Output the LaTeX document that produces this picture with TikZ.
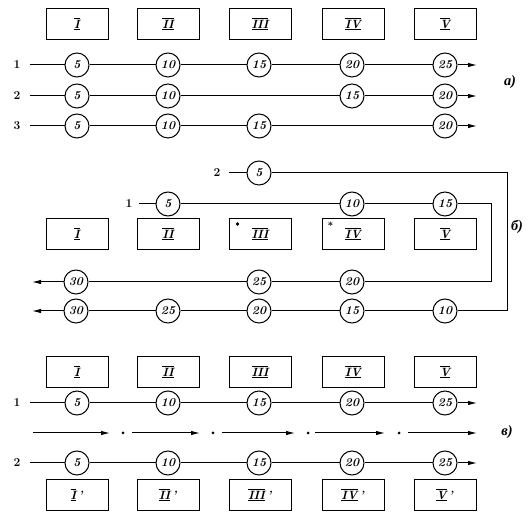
\documentclass[tikz,border=0pt]{standalone}
\usepackage{fontspec}
\newfontfamily\cyr{Liberation Serif}
\usetikzlibrary{arrows.meta}
\newcommand\rn[1]{$\overline{\underline{\mbox{\bfseries\itshape #1}}}$}
\begin{document}
\begin{tikzpicture}[x=1pt,y=-1pt,
 unit/.style={draw,line width=1pt,minimum width=62pt,minimum height=31pt,inner sep=0pt,font=\large},
 st/.style={draw,circle,line width=1pt,minimum size=24pt,inner sep=0pt,font=\large\bfseries\itshape},
 flow/.style={line width=1pt},
 tip/.style={-{Latex[length=9pt,width=4.5pt]}},
 rowlab/.style={font=\large\bfseries},
 part/.style={font=\cyr\itshape\bfseries\Large}]
\useasboundingbox (0,0) rectangle (531,521);

% ---------- a) ----------
\foreach \n/\x/\t in {1/77/I,2/168/II,3/260/III,4/353/IV,5/445/V}
  \node[unit] (A\n) at (\x,24) {\rn{\t}};
\node[part] (pa) at (510,82) {а)};
% row 1
\node[rowlab] (la1) at (17,65) {1};
\coordinate (a1s) at (30,65); \coordinate (a1e) at (477,65);
\foreach \n/\x/\v in {1/77/5,2/168/10,3/259/15,4/352/20,5/445/25}
  \node[st] (a1c\n) at (\x,65) {\v};
\draw[flow] (a1s) -- (a1c1) -- (a1c2) -- (a1c3) -- (a1c4) -- (a1c5);
\draw[flow,tip] (a1c5) -- (a1e);
% row 2
\node[rowlab] (la2) at (17,96) {2};
\coordinate (a2s) at (30,96); \coordinate (a2e) at (477,96);
\foreach \n/\x/\v in {1/77/5,2/168/10,3/352/15,4/445/20}
  \node[st] (a2c\n) at (\x,96) {\v};
\draw[flow] (a2s) -- (a2c1) -- (a2c2) -- (a2c3) -- (a2c4);
\draw[flow,tip] (a2c4) -- (a2e);
% row 3
\node[rowlab] (la3) at (17,126) {3};
\coordinate (a3s) at (30,126); \coordinate (a3e) at (477,126);
\foreach \n/\x/\v in {1/77/5,2/168/10,3/259/15,4/445/20}
  \node[st] (a3c\n) at (\x,126) {\v};
\draw[flow] (a3s) -- (a3c1) -- (a3c2) -- (a3c3) -- (a3c4);
\draw[flow,tip] (a3c4) -- (a3e);

% ---------- b) ----------
\foreach \n/\x/\t in {1/77/I,2/168/II,3/260/III,4/353/IV,5/445/V}
  \node[unit] (B\n) at (\x,234) {\rn{\t}};
\fill (B3.north west) ++(9,6) circle (1.8pt);
\node[font=\bfseries,inner sep=0pt] (star4) at ([shift={(9,8)}]B4.north west) {*};
\node[part] (pb) at (517,227) {б)};
% outer path (2)
\node[rowlab] (lb2) at (217,173) {2};
\coordinate (b2s) at (229,173);
\node[st] (b2c1) at (259,173) {5};
\coordinate (b2r1) at (507,173); \coordinate (b2r2) at (507,311);
\foreach \n/\x/\v in {2/445/10,3/352/15,4/259/20,5/168/25,6/76/30}
  \node[st] (b2c\n) at (\x,311) {\v};
\coordinate (b2e) at (32,311);
\draw[flow] (b2s) -- (b2c1) -- (b2r1) -- (b2r2) -- (b2c2) -- (b2c3) -- (b2c4) -- (b2c5) -- (b2c6);
\draw[flow,tip] (b2c6) -- (b2e);
% inner path (1)
\node[rowlab] (lb1) at (129,204) {1};
\coordinate (b1s) at (139,204);
\foreach \n/\x/\v in {1/168/5,2/352/10,3/445/15}
  \node[st] (b1c\n) at (\x,204) {\v};
\coordinate (b1r1) at (491,204); \coordinate (b1r2) at (491,282);
\foreach \n/\x/\v in {4/352/20,5/259/25,6/76/30}
  \node[st] (b1c\n) at (\x,282) {\v};
\coordinate (b1e) at (32,282);
\draw[flow] (b1s) -- (b1c1) -- (b1c2) -- (b1c3) -- (b1r1) -- (b1r2) -- (b1c4) -- (b1c5) -- (b1c6);
\draw[flow,tip] (b1c6) -- (b1e);

% ---------- v) ----------
\foreach \n/\x/\t in {1/77/I,2/168/II,3/260/III,4/353/IV,5/445/V}
  \node[unit] (C\n) at (\x,372) {\rn{\t}};
\foreach \n/\x/\t in {1/77/I,2/168/II,3/260/III,4/353/IV,5/445/V}
  \node[unit] (D\n) at (\x,495) {\rn{\t}\,\textit{\bfseries '}};
\node[part] (pc) at (507,432) {в)};
% row 1
\node[rowlab] (lc1) at (17,403) {1};
\coordinate (c1s) at (30,403); \coordinate (c1e) at (477,403);
\foreach \n/\x/\v in {1/77/5,2/168/10,3/259/15,4/352/20,5/445/25}
  \node[st] (c1c\n) at (\x,403) {\v};
\draw[flow] (c1s) -- (c1c1) -- (c1c2) -- (c1c3) -- (c1c4) -- (c1c5);
\draw[flow,tip] (c1c5) -- (c1e);
% row 2
\node[rowlab] (lc2) at (17,463) {2};
\coordinate (c2s) at (30,463); \coordinate (c2e) at (477,463);
\foreach \n/\x/\v in {1/77/5,2/168/10,3/259/15,4/352/20,5/445/25}
  \node[st] (c2c\n) at (\x,463) {\v};
\draw[flow] (c2s) -- (c2c1) -- (c2c2) -- (c2c3) -- (c2c4) -- (c2c5);
\draw[flow,tip] (c2c5) -- (c2e);
% dash-dot flow
\foreach \s/\e/\d [count=\i] in {33/110/123,132/200/213,222/295/308,315/385/399}{
  \coordinate (m\i s) at (\s,433); \coordinate (m\i e) at (\e,433);
  \draw[flow,tip] (m\i s) -- (m\i e);
  \fill (\d,433) circle (1.5pt);
}
\coordinate (m5s) at (408,433); \coordinate (m5e) at (477,433);
\draw[flow,tip] (m5s) -- (m5e);
\end{tikzpicture}
\end{document}
